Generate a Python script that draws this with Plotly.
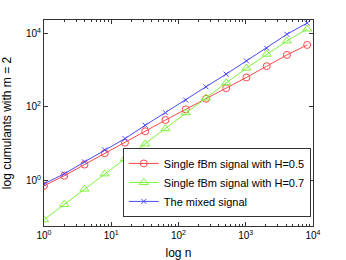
import plotly.graph_objects as go

n = [1, 2, 4, 8, 16, 32, 64, 128, 256, 512, 1024, 2048, 4096, 8192]
h05 = [0.71, 1.33, 2.69, 5.48, 10.6, 21.7, 44, 86, 167, 326, 637, 1292, 2620, 4900]
h07 = [0.0845, 0.22, 0.577, 1.50, 3.91, 9.82, 25.6, 69.5, 175, 455, 1140, 2740, 6300, 13300]
mixed = [0.80, 1.50, 3.18, 6.74, 13.7, 31.6, 69.5, 154, 354, 784, 1800, 3990, 9570, 19400]

names = ["Single fBm signal with H=0.5", "Single fBm signal with H=0.7", "The mixed signal"]
colors = ["#ff4848", "#7cf23c", "#4a4aff"]
symbols = ["circle-open", "triangle-up-open", "x-thin-open"]
sizes = [7, 8, 5]

x_major = [1, 10, 100, 1000, 10000]
x_labels = ["10<sup>0</sup>", "10<sup>1</sup>", "10<sup>2</sup>", "10<sup>3</sup>", "10<sup>4</sup>"]
y_major = [1, 100, 10000]
y_labels = ["10<sup>0</sup>", "10<sup>2</sup>", "10<sup>4</sup>"]
x_minor = [m * d for d in [1, 10, 100, 1000] for m in range(2, 10)]

fig = go.Figure()
for ys, nm, c, s, sz in zip([h05, h07, mixed], names, colors, symbols, sizes):
    fig.add_trace(go.Scatter(
        x=n, y=ys, name=nm, mode="lines+markers",
        line=dict(color=c, width=1),
        marker=dict(symbol=s, size=sz, color=c, line=dict(color=c, width=1)),
    ))

axis_common = dict(
    type="log", showline=True, linecolor="#333333", linewidth=1, mirror="ticks",
    ticks="inside", ticklen=4, tickcolor="#333333", showgrid=False, zeroline=False,
    automargin=False,
    tickfont=dict(family="Liberation Sans", size=10, color="#000000"),
)
title_font = dict(family="Liberation Sans", size=12, color="#000000")

fig.update_xaxes(
    **axis_common, range=[0, 4], tickvals=x_major, ticktext=x_labels,
    minor=dict(tickvals=x_minor, ticks="inside", ticklen=2, tickcolor="#333333", showgrid=False),
    title=dict(text="log n", font=title_font),
)
fig.update_yaxes(
    **axis_common, range=[-1.245, 4.37], tickvals=y_major, ticktext=y_labels,
    title=dict(text="log cumulants with m = 2", font=title_font),
)

fig.update_layout(
    width=346, height=260,
    margin=dict(l=44, r=33, t=20, b=34),
    paper_bgcolor="white", plot_bgcolor="white",
    showlegend=True,
    legend=dict(
        x=0.293, y=0.044, xanchor="left", yanchor="bottom",
        bgcolor="white", bordercolor="#333333", borderwidth=1,
        font=dict(family="Liberation Sans", size=11, color="#000000"),
        itemwidth=30, tracegroupgap=0,
    ),
)

fig.write_html(
    "out.html",
    config={"displayModeBar": False},
    post_script="document.body.style.margin='0px';document.body.style.overflow='hidden';",
)
